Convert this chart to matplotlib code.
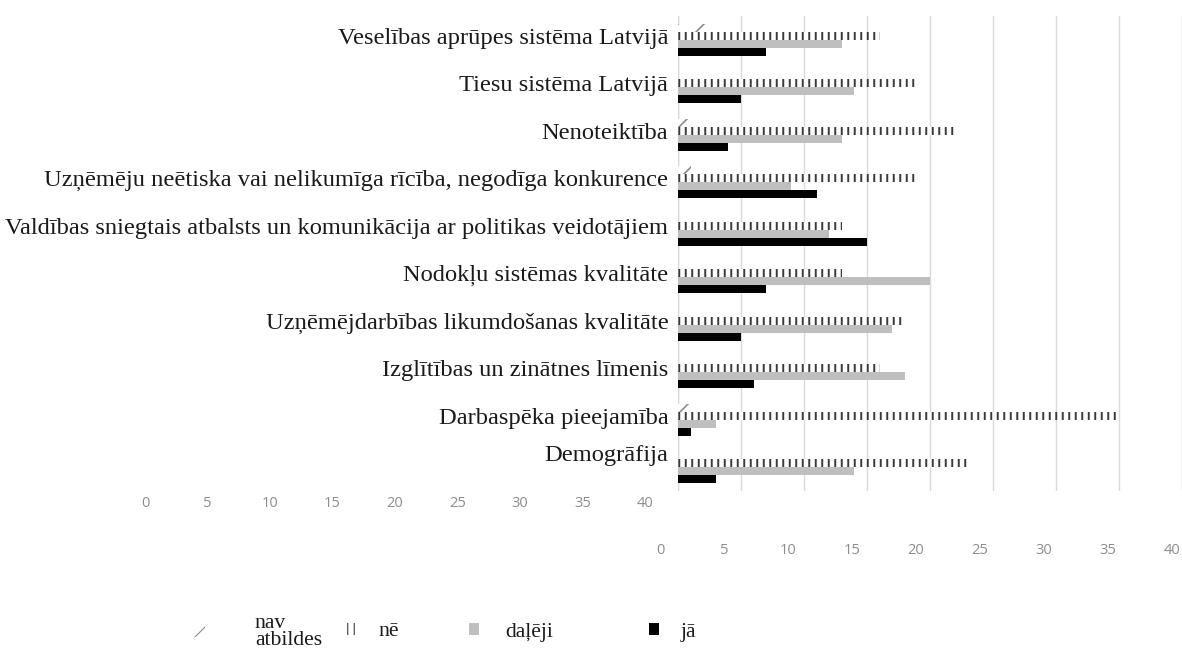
import numpy as np
import matplotlib
matplotlib.use("Agg")
import matplotlib.pyplot as plt
from matplotlib.patches import Patch

categories = [
    "Veselības aprūpes sistēma Latvijā",
    "Tiesu sistēma Latvijā",
    "Nenoteiktība",
    "Uzņēmēju neētiska vai nelikumīga rīcība, negodīga konkurence",
    "Valdības sniegtais atbalsts un komunikācija ar politikas veidotājiem",
    "Nodokļu sistēmas kvalitāte",
    "Uzņēmējdarbības likumdošanas kvalitāte",
    "Izglītības un zinātnes līmenis",
    "Darbaspēka pieejamība",
    "Demogrāfija",
]
nav_atbildes = [3, 0, 1, 1, 0, 0, 0, 0, 1, 0]
ne = [16, 19, 22, 19, 13, 13, 18, 16, 35, 23]
daleji = [13, 14, 13, 9, 12, 20, 17, 18, 3, 14]
ja = [7, 5, 4, 11, 15, 7, 5, 6, 1, 3]
series_names = ["nav\natbildes", "nē", "daļēji", "jā"]
ticks = [0, 5, 10, 15, 20, 25, 30, 35, 40]

W, H, DPI = 1182, 659, 78
fig = plt.figure(figsize=(W / DPI, H / DPI), dpi=DPI)
fig.patch.set_facecolor("white")

def fx(px):
    return px / W

def fy(px):
    return 1 - px / H

serif = "Liberation Serif"
sans = "Open Sans"
tick_gray = "#8c8c8c"

# main axes
x0, x1 = 678, 1182
y_top, y_bot = 16, 491
ax = fig.add_axes([fx(x0), fy(y_bot), fx(x1 - x0), (y_bot - y_top) / H])
ax.set_facecolor("none")
ppu = 12.8
ax.set_xlim(0, (x1 - x0) / ppu)
ax.set_ylim(len(categories) - 0.5, -0.5)

h = 8 / 47.5
idx = np.arange(len(categories))

with plt.rc_context({"hatch.linewidth": 1.5}):
    ax.barh(idx - 1.5 * h, nav_atbildes, height=h, color="white",
            edgecolor="#8a8a8a", linewidth=0, hatch="/", zorder=3)
with plt.rc_context({"hatch.linewidth": 1.8}):
    ax.barh(idx - 0.5 * h, ne, height=h, color="white",
            edgecolor="#3a3a3a", linewidth=0, hatch="||", zorder=3)
ax.barh(idx + 0.5 * h, daleji, height=h, color="#bfbfbf", linewidth=0, zorder=3)
ax.barh(idx + 1.5 * h, ja, height=h, color="black", linewidth=0, zorder=3)

ax.set_xticks(ticks)
ax.xaxis.grid(True, color="#d9d9d9", linewidth=1.3, zorder=0)
ax.tick_params(axis="x", length=0, labelbottom=False)
for s in ax.spines.values():
    s.set_visible(False)
ax.axvline(0, color="#d9d9d9", linewidth=1.3, zorder=1)

label_y = (idx - 0.5 * h).astype(float)
label_y[-1] -= 0.22
ax.set_yticks(label_y)
ax.set_yticklabels(categories, fontfamily=serif, fontsize=22.6, color="#1a1a1a")
ax.tick_params(axis="y", length=0, pad=9)

def ghost_axis(left_px, right_px, y_px):
    a = fig.add_axes([fx(left_px), fy(y_px), fx(right_px - left_px), 0.0001])
    a.set_facecolor("none")
    a.set_xlim(0, 40)
    a.set_xticks(ticks)
    a.set_yticks([])
    a.tick_params(axis="x", length=0, pad=0, labelsize=13.5, labelcolor=tick_gray)
    for t in a.get_xticklabels():
        t.set_fontfamily(sans)
    for s in a.spines.values():
        s.set_visible(False)
    return a

ghost_axis(145, 645, 496)
ghost_axis(660, 1172, 543)

# legend entries
with plt.rc_context({"hatch.linewidth": 1.5}):
    h_nav = Patch(facecolor="white", edgecolor="#8a8a8a", linewidth=0, hatch="/")
with plt.rc_context({"hatch.linewidth": 1.8}):
    h_ne = Patch(facecolor="white", edgecolor="#3a3a3a", linewidth=0, hatch="||")
handles = [
    h_nav,
    h_ne,
    Patch(facecolor="#bfbfbf", linewidth=0),
    Patch(facecolor="black", linewidth=0),
]
leg_x = [193, 342, 469, 649]
pads = [2.3, 1.0, 1.2, 1.0]
hls = [0.55, 0.7, 0.45, 0.45]
for hd, name, lx, pd, hl in zip(handles, series_names, leg_x, pads, hls):
    lg = fig.legend([hd], [name], loc="center left",
                    bbox_to_anchor=(fx(lx), fy(632)), frameon=False,
                    handlelength=hl, handleheight=0.45, handletextpad=pd,
                    borderpad=0, borderaxespad=0,
                    prop={"family": serif, "size": 20})
    for t in lg.get_texts():
        t.set_linespacing(0.9)
        t.set_color("#1a1a1a")

fig.savefig("out.png", dpi=DPI, facecolor="white")
